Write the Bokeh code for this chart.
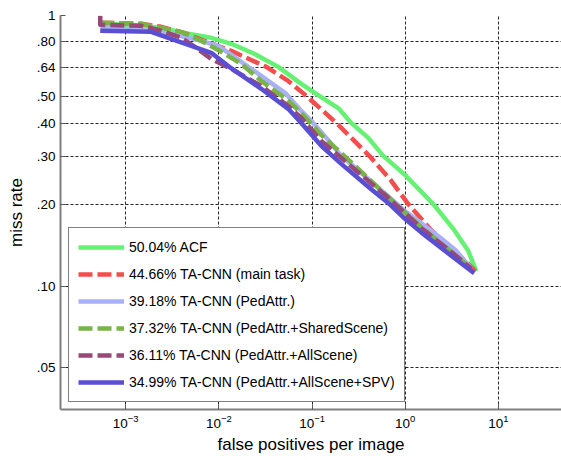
from bokeh.plotting import figure
from bokeh.models import Range1d, FixedTicker, Legend, LegendItem
from bokeh.embed import file_html
from bokeh.resources import INLINE

# ---- data (false positives per image, miss rate) ----
acf_fppi = [5.34e-4, 1.15e-3, 2.41e-3, 4.70e-3, 8.28e-3, 0.0136, 0.0240, 0.0434, 0.0766, 0.1195,
            0.191, 0.263, 0.401, 0.581, 1.0, 2.05, 3.36, 4.74, 5.78]
acf_miss = [0.932, 0.924, 0.900, 0.856, 0.827, 0.786, 0.722, 0.646, 0.559, 0.505,
            0.455, 0.401, 0.353, 0.303, 0.257, 0.199, 0.161, 0.135, 0.1136]

main_fppi = [5.34e-4, 1.47e-3, 2.41e-3, 4.47e-3, 6.97e-3, 0.0136, 0.0323, 0.0555, 0.0867, 0.182,
             0.411, 0.708, 1.077, 1.90, 3.36, 4.74, 5.64]
main_miss = [0.940, 0.932, 0.908, 0.856, 0.806, 0.740, 0.646, 0.573, 0.505, 0.401,
             0.303, 0.245, 0.201, 0.161, 0.135, 0.121, 0.1136]

ped_fppi = [5.34e-4, 1.47e-3, 3.08e-3, 6.47e-3, 9.86e-3, 0.01463, 0.0285, 0.0529, 0.0766, 0.103,
            0.1456, 0.2058, 0.3373, 0.5521, 1.0, 1.484, 2.435, 3.526, 5.11]
ped_miss = [0.900, 0.885, 0.856, 0.806, 0.772, 0.703, 0.598, 0.513, 0.444, 0.401,
            0.350, 0.303, 0.262, 0.226, 0.189, 0.171, 0.150, 0.135, 0.116]

shared_fppi = [5.34e-4, 1.47e-3, 2.41e-3, 3.95e-3, 6.47e-3, 9.86e-3, 0.01738, 0.0285, 0.0529, 0.0766,
               0.1256, 0.2837, 0.6574, 1.484, 3.355, 5.11]
shared_miss = [0.940, 0.932, 0.900, 0.870, 0.806, 0.746, 0.663, 0.573, 0.492, 0.436,
               0.362, 0.280, 0.213, 0.165, 0.131, 0.116]

all_fppi = [5.34e-4, 5.34e-4, 1.47e-3, 2.41e-3, 3.95e-3, 5.73e-3, 8.28e-3, 0.01359, 0.0285, 0.0555,
            0.0766, 0.1256, 0.2837, 0.6574, 1.484, 3.355, 5.11]
all_miss = [0.997, 0.924, 0.916, 0.878, 0.827, 0.759, 0.692, 0.635, 0.549, 0.463,
            0.418, 0.344, 0.271, 0.212, 0.164, 0.131, 0.116]

spv_fppi = [5.34e-4, 1.88e-3, 2.86e-3, 5.06e-3, 8.28e-3, 0.01294, 0.0285, 0.0555, 0.0766, 0.1256,
            0.2058, 0.4317, 0.6574, 1.0, 1.484, 3.355, 5.50]
spv_miss = [0.878, 0.870, 0.827, 0.772, 0.728, 0.646, 0.536, 0.452, 0.401, 0.330,
            0.283, 0.228, 0.203, 0.177, 0.158, 0.127, 0.1117]

labels = ["50.04% ACF",
          "44.66% TA-CNN (main task)",
          "39.18% TA-CNN (PedAttr.)",
          "37.32% TA-CNN (PedAttr.+SharedScene)",
          "36.11% TA-CNN (PedAttr.+AllScene)",
          "34.99% TA-CNN (PedAttr.+AllScene+SPV)"]

x_ticks = [1e-3, 1e-2, 1e-1, 1, 10]
y_ticks = [0.05, 0.1, 0.2, 0.3, 0.4, 0.5, 0.64, 0.8, 1.0]
y_tick_labels = [".05", ".10", ".20", ".30", ".40", ".50", ".64", ".80", "1"]

series = [(acf_fppi, acf_miss), (main_fppi, main_miss), (ped_fppi, ped_miss),
          (shared_fppi, shared_miss), (all_fppi, all_miss), (spv_fppi, spv_miss)]
colors = ["#66F074", "#F24E4E", "#A9B1F5", "#79B447", "#974A78", "#5A4ED3"]
dashes = ["solid", "14 5", "solid", "14 5", "14 5", "solid"]

FONT = "Liberation Sans"

p = figure(width=561, height=460, x_axis_type="log", y_axis_type="log",
           x_range=Range1d(2e-4, 47.5), y_range=Range1d(0.035, 1.0),
           output_backend="svg", toolbar_location=None,
           min_border_left=60, min_border_right=0, min_border_top=15, min_border_bottom=51)

p.outline_line_color = None
p.background_fill_color = "white"
p.border_fill_color = "white"

xt = FixedTicker(ticks=x_ticks, minor_ticks=[])
yt = FixedTicker(ticks=y_ticks, minor_ticks=[])
p.xaxis.ticker = xt
p.yaxis.ticker = yt
p.xgrid.ticker = xt
p.ygrid.ticker = yt
p.yaxis.major_label_overrides = {t: l for t, l in zip(y_ticks, y_tick_labels)}

for g in (p.xgrid, p.ygrid):
    g.grid_line_color = "black"
    g.grid_line_alpha = 0.85
    g.grid_line_dash = "3 2"
    g.grid_line_width = 1

for ax in (p.xaxis, p.yaxis):
    ax.axis_line_color = "#808080"
    ax.axis_line_width = 2
    ax.major_tick_in = 5
    ax.major_tick_out = 0
    ax.minor_tick_in = 0
    ax.minor_tick_out = 0
    ax.major_tick_line_color = "#555555"
    ax.major_label_text_font = FONT
    ax.major_label_text_font_size = "13.5px"
    ax.major_label_text_color = "black"
    ax.axis_label_text_font = FONT
    ax.axis_label_text_font_size = "17px"
    ax.axis_label_text_font_style = "normal"
    ax.axis_label_text_color = "black"
    ax.major_label_standoff = 5

p.xaxis.axis_label = "false positives per image"
p.yaxis.axis_label = "miss rate"
p.xaxis.axis_label_standoff = 4
p.yaxis.axis_label_standoff = 8

items = []
for (xs, ys), c, d, lab in zip(series, colors, dashes, labels):
    r = p.line(xs, ys, line_color=c, line_width=4.5, line_dash=d, line_join="round")
    items.append(LegendItem(label=lab, renderers=[r]))

legend = Legend(items=items, location=(8, 7), margin=0, padding=9, spacing=7,
                glyph_width=46, glyph_height=20, label_height=20, label_standoff=5,
                label_text_font=FONT, label_text_font_size="14px", label_text_color="black",
                border_line_color="black", border_line_width=1.5,
                background_fill_color="white", background_fill_alpha=1.0)
p.add_layout(legend)

open("out.html", "w").write(file_html(p, INLINE))
